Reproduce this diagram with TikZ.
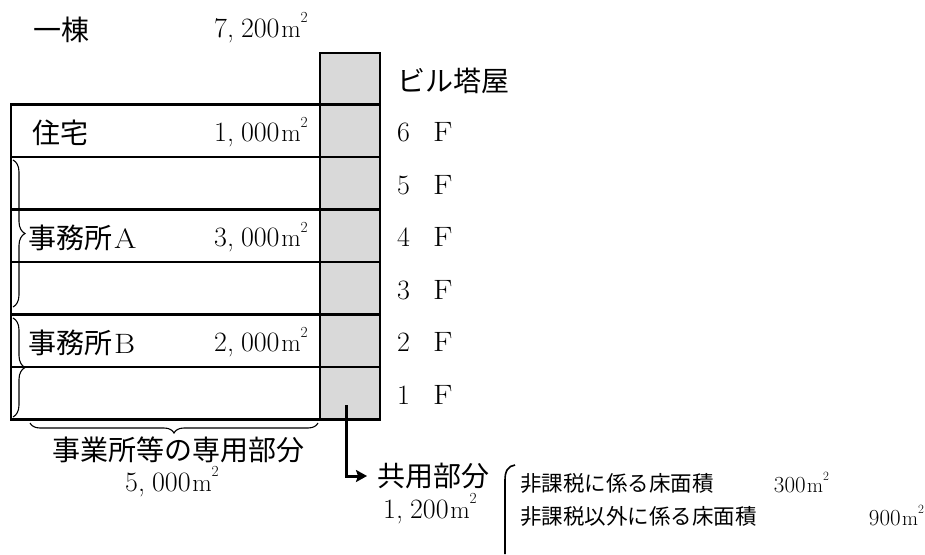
\documentclass[tikz,border=0pt]{standalone}
\usepackage{fontspec}
\usepackage{graphicx}
\newfontfamily\jp{Noto Sans CJK JP}
\usetikzlibrary{arrows.meta,decorations.pathreplacing}
\newcommand{\nm}[1]{\scalebox{1.15}[1]{#1}}
\newcommand{\lat}[1]{{\rmfamily\nm{#1}}}
\newcommand{\cma}{,\kern0.25em}
\newcommand{\sqm}{\kern0.06em\scalebox{0.9}{m}\raisebox{0.52em}{\scalebox{0.55}{2}}}
\tikzset{
  jptxt/.style={inner sep=0pt, text height=24.6pt, text depth=3.4pt, font=\jp\fontsize{28}{30}\selectfont},
  jpsmall/.style={inner sep=0pt, text height=18.9pt, text depth=2.6pt, font=\jp\fontsize{21.5}{24}\selectfont},
  numtxt/.style={inner sep=0pt, font=\rmfamily\fontsize{28}{30}\selectfont},
  numsmall/.style={inner sep=0pt, font=\rmfamily\fontsize{23}{26}\selectfont},
  frame/.style={line width=2.6pt},
  bracestyle/.style={line width=1.1pt, decorate, decoration={brace, amplitude=#1}},
}
\begin{document}
\begin{tikzpicture}[x=1pt,y=-1pt]
\useasboundingbox (0,0) rectangle (925,554);
% column (common part)
\fill[black!15] (320,53) rectangle (380,419.5);
\draw[frame] (320,53) rectangle (380,419.5);
% table
\draw[frame] (11,104.5) rectangle (320,419.5);
\foreach \yy in {104.5,157,209.5,262,314.5,367} {
  \draw[frame] (11,\yy) -- (380,\yy);
}
% top label
\node[jptxt, anchor=west] (ichito) at (33,29.5) {一棟};
\node[numtxt, anchor=base east] (ichitoarea) at (308,37) {7\cma200\sqm};
% row labels
\node[jptxt, anchor=west] (jutaku) at (32,133) {住宅};
\node[numtxt, anchor=base east] (jutakuarea) at (308,141.75) {1\cma000\sqm};
\node[jptxt, anchor=west] (jimuA) at (28,237.5) {事務所\kern2pt\lat{A}};
\node[numtxt, anchor=base east] (jimuAarea) at (308,246.75) {3\cma000\sqm};
\node[jptxt, anchor=west] (jimuB) at (28,342.5) {事務所\kern2pt\lat{B}};
\node[numtxt, anchor=base east] (jimuBarea) at (308,351.75) {2\cma000\sqm};
% floor labels
\node[jptxt, anchor=west] (touya) at (397,81) {ビル塔屋};
\foreach \n/\yc in {6/130.75,5/183.25,4/235.75,3/288.25,2/340.75,1/393.25} {
  \node[numtxt, anchor=base west] (fl\n) at (397,\yc+11) {\n};
  \node[numtxt, anchor=base west] (ff\n) at (433,\yc+11) {\nm{F}};
}
% braces
\coordinate (bAtop) at (13,160);
\coordinate (bAbot) at (13,307);
\coordinate (bBtop) at (13,318);
\coordinate (bBbot) at (13,417);
\draw[bracestyle=12] (bAtop) -- (bAbot);
\draw[bracestyle=12] (bBtop) -- (bBbot);
\coordinate (bCright) at (318,423);
\coordinate (bCleft) at (30,423);
\draw[bracestyle=10] (bCright) -- (bCleft);
% exclusive part label
\node[jptxt] (senyo) at (178.5,450) {事業所等の専用部分};
\node[numtxt, anchor=base] (senyoarea) at (172,491) {5\cma000\sqm};
% common part
\node[jptxt, anchor=west] (kyoyo) at (377,476) {共用部分};
\node[numtxt, anchor=base] (kyoyoarea) at (430,518) {1\cma200\sqm};
\coordinate (colstart) at (346,405);
\draw[line width=3pt, -{Stealth[length=11pt,width=12pt,inset=2pt]}] (colstart) |- ([xshift=-10pt]kyoyo.west);
% right bracket
\coordinate (brtop) at (515,465);
\coordinate (brbot) at (505,554);
\draw[line width=1.6pt] (brtop) .. controls (508,466) and (505,471) .. (505,480) -- (brbot);
\node[jpsmall, anchor=west] (hika) at (520,483) {非課税に係る床面積};
\node[numsmall, anchor=base east] (hikaarea) at (829,492) {300\sqm};
\node[jpsmall, anchor=west] (hikaigai) at (520,516) {非課税以外に係る床面積};
\node[numsmall, anchor=base east] (hikaigaiarea) at (924,525) {900\sqm};
\end{tikzpicture}
\end{document}
